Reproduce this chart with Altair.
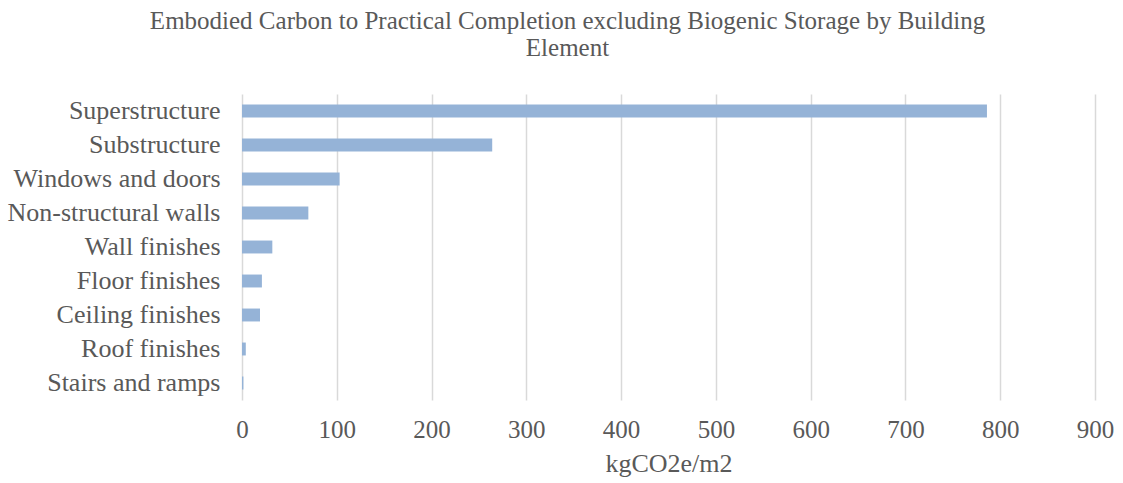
import altair as alt
import pandas as pd

# Building elements, top to bottom, and their embodied carbon (kgCO2e/m2)
elements = [
    "Superstructure",
    "Substructure",
    "Windows and doors",
    "Non-structural walls",
    "Wall finishes",
    "Floor finishes",
    "Ceiling finishes",
    "Roof finishes",
    "Stairs and ramps",
]
carbon = [786, 264, 103, 70, 32, 21, 19, 4, 1.5]
x_ticks = [0, 100, 200, 300, 400, 500, 600, 700, 800, 900]

df = pd.DataFrame({"element": elements, "carbon": carbon})

FONT = "Liberation Serif"
TEXT = "#595959"

chart = (
    alt.Chart(df)
    .mark_bar(color="#95b3d7")
    .encode(
        x=alt.X(
            "carbon:Q",
            scale=alt.Scale(domain=[0, 900], nice=False),
            axis=alt.Axis(
                values=x_ticks,
                title="kgCO2e/m2",
                grid=True,
                gridColor="#d9d9d9",
                gridWidth=1.5,
                domain=False,
                ticks=False,
                labelFlush=False,
                labelPadding=17,
                labelFontSize=25,
                labelColor=TEXT,
                labelFont=FONT,
                titleFont=FONT,
                titleFontSize=26,
                titleFontWeight="normal",
                titleColor=TEXT,
                titlePadding=8,
            ),
        ),
        y=alt.Y(
            "element:N",
            sort=elements,
            scale=alt.Scale(paddingInner=0.62, paddingOuter=0.31),
            axis=alt.Axis(
                title=None,
                domain=False,
                ticks=False,
                labelPadding=22,
                labelFontSize=26,
                labelLimit=400,
                labelColor=TEXT,
                labelFont=FONT,
            ),
        ),
    )
    .properties(
        width=853,
        height=306,
        autosize=alt.AutoSizeParams(type="none"),
        padding={"left": 242, "top": 94, "right": 28, "bottom": 83},
        title=alt.TitleParams(
            text=[
                "Embodied Carbon to Practical Completion excluding Biogenic Storage by Building",
                "Element",
            ],
            font=FONT,
            fontSize=25,
            fontWeight="normal",
            color=TEXT,
            anchor="middle",
            dx=-101,
            lineHeight=27,
            offset=33,
        ),
    )
    .configure_view(stroke=None)
)

chart.save("out.html", embed_options={"renderer": "svg", "actions": False})
